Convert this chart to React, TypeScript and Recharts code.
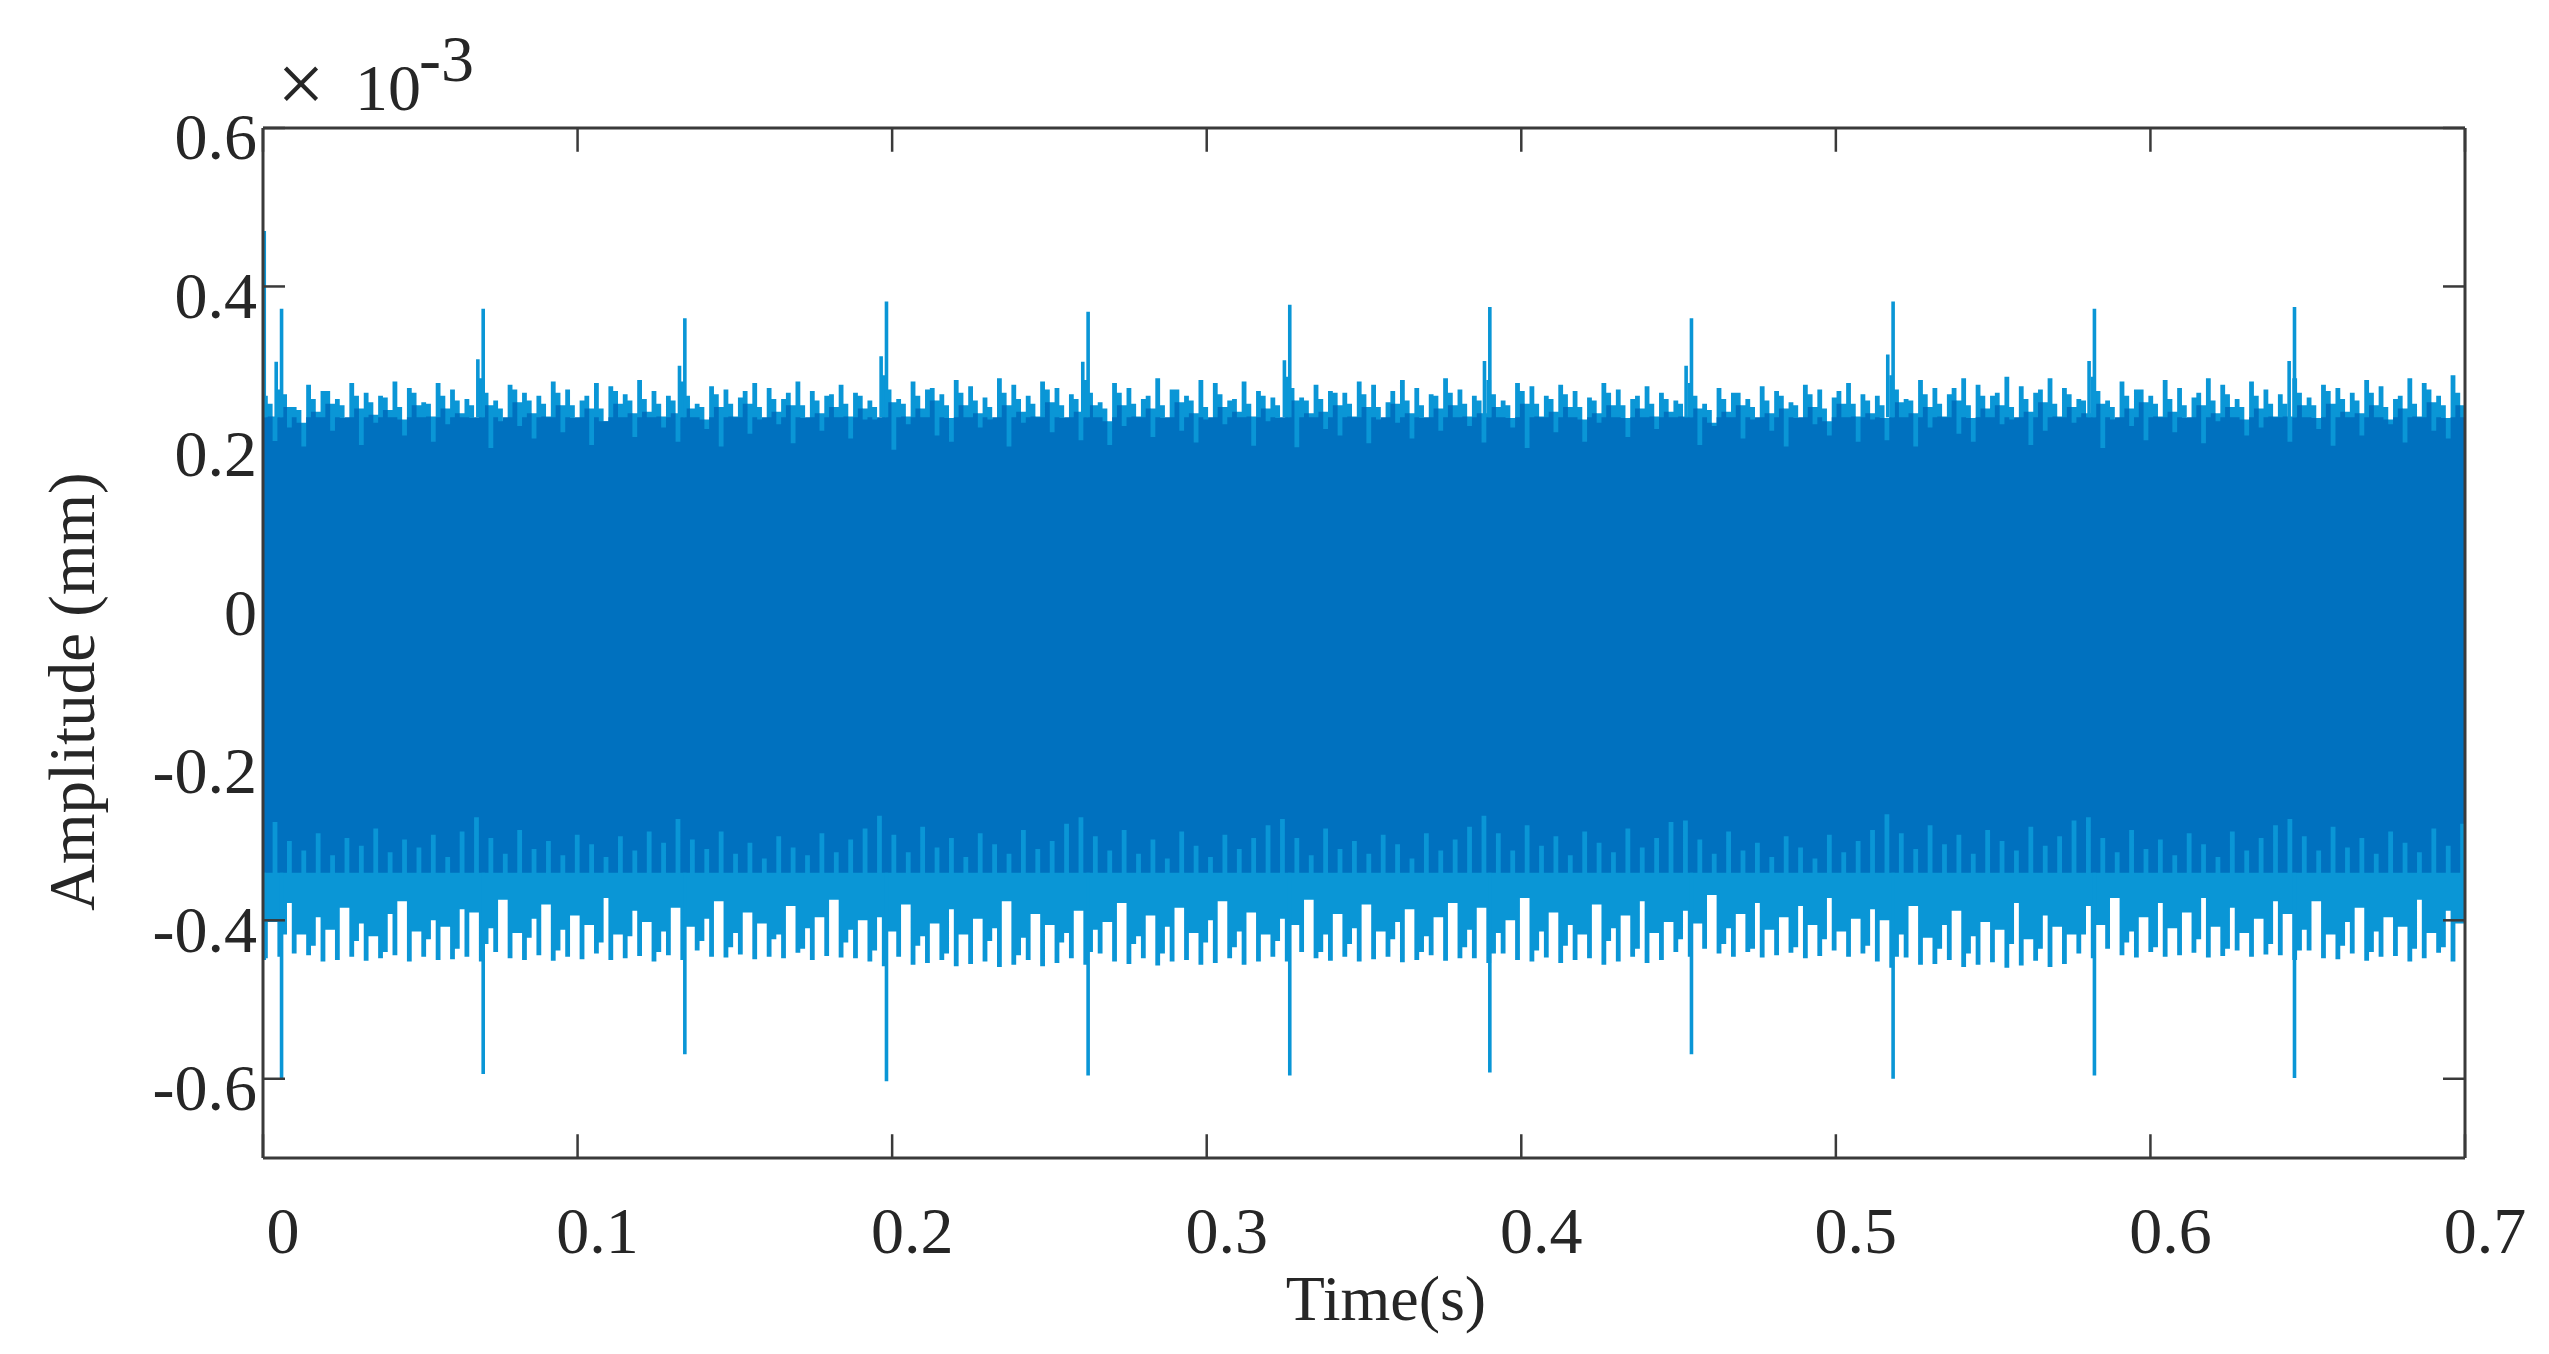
import { ComposedChart, Area, Line, XAxis, YAxis, ReferenceLine } from 'recharts';

const xTicks = [0, 0.1, 0.2, 0.3, 0.4, 0.5, 0.6, 0.7];
const yTicks = [-0.6, -0.4, -0.2, 0, 0.2, 0.4, 0.6];

// tooth level readings of the band edges, in 1e-6 mm, 14 teeth between two impacts
const upperTips = [
  262,270,248,276,268,258,278,266,262,280,272,254,278,270,
  258,284,256,276,266,262,280,270,256,278,274,264,282,268,
  262,280,252,274,270,260,278,272,258,280,268,262,276,266,
  256,288,258,280,270,264,282,274,260,284,276,262,280,272,
  264,282,254,278,272,258,284,270,262,282,278,256,280,268,
  260,286,260,276,268,266,280,276,254,282,272,264,284,270,
  262,282,256,278,274,262,276,268,260,278,270,258,274,266,
  256,278,252,272,266,258,274,268,254,276,270,260,278,264,
  262,288,258,282,272,264,284,276,262,286,274,266,284,272,
  258,286,256,280,270,262,282,272,260,284,276,258,280,270,
  264,284,260,276,272,266,282,274,258,284,278,262,288,
];
const upperShelves = [
  252,264,244,258,268,250,262,254,260,248,266,252,262,256,
  250,266,246,270,256,252,266,250,262,246,268,256,258,252,
  256,262,248,264,252,268,248,258,266,250,256,264,252,262,
  248,270,252,262,272,250,266,256,248,266,258,252,270,250,
  258,266,246,266,252,262,250,270,256,248,264,258,252,262,
  250,272,256,258,266,252,264,248,268,256,250,262,266,252,
  256,264,250,268,252,258,264,248,256,266,250,262,252,258,
  252,262,244,258,266,248,256,262,250,264,246,268,252,256,
  250,270,256,264,252,272,250,262,266,248,258,270,252,264,
  256,268,248,262,270,252,258,250,266,256,264,248,262,252,
  252,266,250,268,258,256,266,248,262,252,270,250,266,
];
const upperNotches = [
  205,222,198,235,218,235,200,228,235,212,235,204,226,235,
  235,196,235,224,208,235,216,235,200,230,235,210,235,222,
  204,235,220,198,235,214,235,226,202,235,218,235,208,232,
  235,194,226,235,212,204,235,222,235,198,228,235,216,235,
  206,235,200,224,235,210,235,218,203,235,226,235,199,230,
  235,197,235,220,212,235,202,235,228,208,235,218,235,224,
  203,235,222,196,235,216,235,204,228,235,210,235,220,235,
  235,200,224,235,208,235,218,198,235,226,212,235,204,232,
  206,235,198,222,235,214,204,235,226,235,200,218,235,228,
  235,196,235,224,206,235,216,235,202,230,235,212,222,235,
  204,235,220,199,235,212,235,226,203,235,218,208,235,
];
const lowerTips = [
  -448,-446,-442,-444,-452,-450,-446,-451,-448,-444,-452,-446,-450,-449,
  -446,-452,-440,-448,-450,-444,-451,-446,-449,-442,-450,-448,-445,-452,
  -444,-450,-438,-446,-447,-443,-449,-446,-448,-441,-450,-445,-447,-448,
  -452,-458,-446,-456,-454,-450,-458,-455,-452,-459,-456,-450,-458,-454,
  -448,-456,-442,-452,-455,-448,-457,-452,-450,-456,-454,-448,-456,-452,
  -446,-452,-440,-448,-451,-446,-452,-449,-446,-453,-450,-444,-451,-448,
  -448,-454,-442,-450,-452,-447,-454,-450,-448,-456,-452,-446,-454,-450,
  -440,-446,-436,-442,-446,-440,-447,-444,-441,-448,-445,-438,-446,-442,
  -452,-460,-447,-456,-455,-450,-459,-456,-453,-460,-457,-451,-459,-455,
  -442,-448,-436,-444,-447,-440,-446,-444,-441,-447,-445,-438,-446,-443,
  -444,-450,-438,-448,-449,-442,-451,-446,-445,-452,-448,-441,-452,
];
// 0 where a tooth has no shelf beside it
const lowerShelves = [
  0,-418,0,-432,0,0,-426,0,-440,0,0,-424,0,-436,
  0,-430,0,0,-422,0,-438,0,0,-428,0,-420,0,-440,
  0,0,-426,0,-434,0,0,-424,0,-436,0,0,-428,0,
  -438,0,0,-432,0,-442,0,0,-426,0,-444,0,0,-428,
  0,-440,0,0,-430,0,-442,0,0,-428,0,-434,0,0,
  -426,0,0,-440,0,-430,0,0,-424,0,-440,0,0,-434,
  0,-442,0,0,-438,0,-432,0,0,-426,0,-436,0,0,
  -424,0,0,-430,0,-436,0,0,-434,0,-424,0,0,-432,
  0,-446,0,0,-436,0,-442,0,0,-430,0,-436,0,0,
  -418,0,0,-428,0,-434,0,0,-424,0,-436,0,0,-430,
  0,-438,0,0,-432,0,-440,0,0,-436,0,-434,0,
];
const lowerGaps = [
  -402,-378,-418,-396,-412,-384,-404,-420,-392,-376,-414,-400,-408,-386,
  -390,-410,-374,-416,-398,-380,-412,-394,-406,-372,-418,-388,-402,-414,
  -384,-408,-398,-376,-416,-390,-404,-418,-382,-410,-396,-374,-412,-400,
  -396,-414,-380,-420,-404,-386,-418,-398,-410,-376,-422,-392,-406,-416,
  -388,-412,-402,-378,-420,-394,-408,-384,-416,-400,-376,-414,-390,-418,
  -398,-406,-374,-418,-392,-410,-380,-414,-402,-386,-420,-396,-378,-412,
  -384,-416,-400,-372,-414,-390,-406,-418,-380,-410,-394,-376,-416,-402,
  -388,-404,-368,-410,-392,-378,-412,-396,-382,-406,-372,-414,-398,-386,
  -400,-418,-382,-422,-406,-388,-420,-402,-412,-378,-424,-394,-408,-418,
  -382,-406,-372,-414,-396,-378,-410,-390,-372,-408,-384,-416,-398,-376,
  -392,-412,-376,-418,-402,-384,-414,-396,-408,-374,-416,-388,-404,
];
const lowerNotches = [
  -276,-300,-312,-290,-318,-296,-306,-284,-314,-298,-308,-292,-320,-288,
  -270,-296,-316,-286,-310,-300,-318,-292,-304,-320,-294,-312,-288,-302,
  -272,-298,-310,-288,-316,-302,-322,-294,-308,-318,-290,-314,-298,-284,
  -268,-292,-314,-282,-308,-296,-320,-290,-304,-316,-286,-310,-300,-278,
  -270,-294,-312,-286,-316,-298,-322,-288,-306,-320,-292,-310,-296,-280,
  -272,-296,-318,-284,-310,-300,-316,-292,-304,-322,-290,-312,-298,-282,
  -268,-290,-312,-280,-306,-294,-318,-288,-302,-314,-284,-308,-296,-276,
  -274,-298,-316,-288,-312,-302,-320,-294,-308,-322,-292,-314,-300,-286,
  -266,-290,-310,-280,-304,-292,-316,-286,-300,-312,-282,-306,-294,-274,
  -270,-296,-314,-286,-310,-298,-318,-290,-304,-320,-288,-312,-296,-280,
  -272,-294,-312,-282,-308,-296,-316,-288,-302,-314,-284,-306,-278,
];
const coreTop = 235;
const coreBottom = -340;
const shelfDrop = 16;

// the impacts that stand out of the band
const spikeTimes = [0.0004, 0.0059, 0.07, 0.1341, 0.1982, 0.2623, 0.3264, 0.39, 0.4541, 0.5182, 0.5822, 0.6458];
const spikeHighs = [0.47, 0.372, 0.372, 0.36, 0.381, 0.368, 0.377, 0.374, 0.36, 0.381, 0.372, 0.374];
const spikeLows = [-0.45, -0.599, -0.594, -0.569, -0.603, -0.596, -0.596, -0.592, -0.569, -0.6, -0.596, -0.599];
const preSpikeHighs = [0.26, 0.305, 0.308, 0.3, 0.312, 0.305, 0.307, 0.306, 0.3, 0.314, 0.306, 0.306];

const toothStep = 0.7 / upperTips.length;
const bandData = upperTips.flatMap((tip, k) => {
  const t = k * toothStep;
  const s = toothStep / 3;
  return [
    { t, high: tip / 1000, low: lowerTips[k] / 1000, coreHigh: coreTop / 1000, coreLow: coreBottom / 1000 },
    { t: t + s, high: upperShelves[k] / 1000, low: (lowerShelves[k] || lowerGaps[k]) / 1000, coreHigh: (upperShelves[k] - shelfDrop) / 1000, coreLow: coreBottom / 1000 },
    { t: t + 2 * s, high: (upperShelves[k] - shelfDrop) / 1000, low: lowerGaps[k] / 1000, coreHigh: upperNotches[k] / 1000, coreLow: lowerNotches[k] / 1000 },
  ];
});
bandData.push({ t: 0.7, high: 0.285, low: -0.45, coreHigh: 0.235, coreLow: -0.34 });

const spikeData = spikeTimes.flatMap((t, i) => [
  { t, v: spikeHighs[i] },
  { t, v: coreTop / 1000 },
  { t, v: null },
  { t, v: coreBottom / 1000 },
  { t, v: spikeLows[i] },
  { t, v: null },
]);
const preSpikeData = spikeTimes.slice(1).flatMap((t, i) => [
  { t: t - 0.0017, v: preSpikeHighs[i + 1] },
  { t: t - 0.0017, v: coreTop / 1000 },
  { t: t - 0.0017, v: null },
]);

const AXIS = '#3a3a3a';
const DARK = '#0071bf';
const LIGHT = '#0a96d6';
const TEXT = '#262626';
const FONT = '"Liberation Serif", serif';
const tickStyle = { fill: TEXT, fontSize: 66, fontFamily: FONT };

const xTickLen = 0.03;
const yTickLen = 0.007;

export default function App() {
  return (
    <div style={{ position: 'absolute', left: 0, top: 0, width: 2549, height: 1354, background: '#fff' }}>
      <ComposedChart width={2549} height={1354} data={bandData} margin={{ top: 128, right: 84, bottom: 0, left: 0 }}>
        <XAxis
          dataKey="t"
          type="number"
          domain={[0, 0.7]}
          ticks={xTicks}
          interval={0}
          allowDataOverflow
          height={196}
          tickSize={0}
          tickMargin={48}
          tick={{ ...tickStyle, dx: 20 }}
          tickFormatter={(v) => String(v)}
          stroke={AXIS}
          strokeWidth={3}
          label={{ value: 'Time(s)', position: 'insideTop', dy: 112, dx: 22, style: { ...tickStyle, fontSize: 64 } }}
        />
        <YAxis
          type="number"
          domain={[-0.7, 0.6]}
          ticks={yTicks}
          interval={0}
          allowDataOverflow
          width={263}
          tickSize={0}
          tickMargin={6}
          tick={{ ...tickStyle, dy: 8 }}
          tickFormatter={(v) => String(v)}
          stroke={AXIS}
          strokeWidth={3}
          label={{ value: 'Amplitude (mm)', angle: -90, position: 'insideLeft', dx: 66, dy: 268, style: { ...tickStyle, fontSize: 65 } }}
        />
        <ReferenceLine y={0.6} stroke={AXIS} strokeWidth={3} />
        <ReferenceLine x={0.7} stroke={AXIS} strokeWidth={3} />
        {xTicks.map((v) => (
          <ReferenceLine key={'xb' + v} stroke={AXIS} strokeWidth={2.5} segment={[{ x: v, y: -0.7 }, { x: v, y: -0.7 + xTickLen }]} />
        ))}
        {xTicks.map((v) => (
          <ReferenceLine key={'xt' + v} stroke={AXIS} strokeWidth={2.5} segment={[{ x: v, y: 0.6 }, { x: v, y: 0.6 - xTickLen }]} />
        ))}
        <Area dataKey={(d: any) => [d.low, d.high]} type="stepAfter" fill={LIGHT} fillOpacity={1} stroke="none" dot={false} activeDot={false} isAnimationActive={false} />
        <Area dataKey={(d: any) => [d.coreLow, d.coreHigh]} type="stepAfter" fill={DARK} fillOpacity={1} stroke="none" dot={false} activeDot={false} isAnimationActive={false} />
        <Line data={spikeData} dataKey="v" stroke={LIGHT} strokeWidth={3.6} dot={false} activeDot={false} connectNulls={false} isAnimationActive={false} />
        <Line data={preSpikeData} dataKey="v" stroke={LIGHT} strokeWidth={3.6} dot={false} activeDot={false} connectNulls={false} isAnimationActive={false} />
        {yTicks.filter((v) => Math.abs(v) > 0.3).map((v) => (
          <ReferenceLine key={'yl' + v} stroke={AXIS} strokeWidth={2.5} segment={[{ x: 0, y: v }, { x: yTickLen, y: v }]} />
        ))}
        {yTicks.filter((v) => Math.abs(v) > 0.3).map((v) => (
          <ReferenceLine key={'yr' + v} stroke={AXIS} strokeWidth={2.5} segment={[{ x: 0.7, y: v }, { x: 0.7 - yTickLen, y: v }]} />
        ))}
        <text x={301} y={112} textAnchor="middle" fill={TEXT} fontSize={84} fontFamily={FONT}>×</text>
        <text x={355} y={110} fill={TEXT} fontSize={66} fontFamily={FONT}>10</text>
        <text x={419} y={81} fill={TEXT} fontSize={66} fontFamily={FONT}>-3</text>
      </ComposedChart>
    </div>
  );
}
